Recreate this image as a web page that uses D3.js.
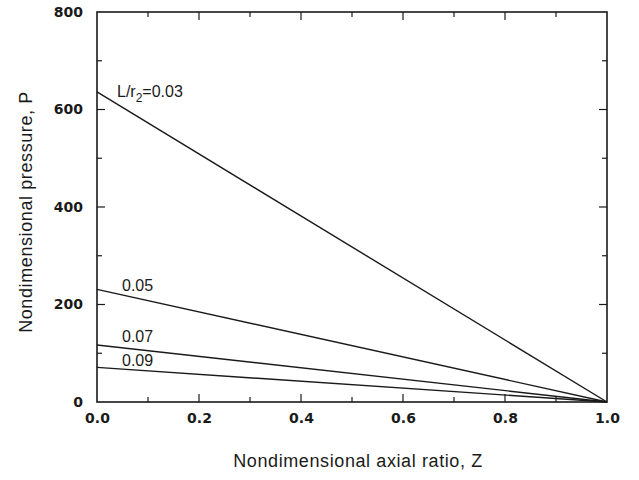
<!DOCTYPE html>
<html><head><meta charset="utf-8">
<script src="https://cdn.jsdelivr.net/npm/d3@7"></script>
<style>body{margin:0;background:#fff}</style>
</head><body>
<svg id="c" width="639" height="480"></svg>
<script>
const seriesNames = ["0.03", "0.05", "0.07", "0.09"];
const zValues = [0.0, 1.0];
const pAtZ0 = [636, 231, 117, 71];
const pAtZ1 = [0, 0, 0, 0];
const xTickLabels = ["0.0", "0.2", "0.4", "0.6", "0.8", "1.0"];
const yTickLabels = ["0", "200", "400", "600", "800"];

const svg = d3.select("#c");
const L = 97, R = 607, T = 12, B = 402;
const x = d3.scaleLinear().domain([0, 1]).range([L, R]);
const y = d3.scaleLinear().domain([0, 800]).range([B, T]);
const ink = "#1a1a1a";
const font = "Liberation Sans, Arial, sans-serif";
const boldFont = "DejaVu Sans, sans-serif";

// frame
svg.append("rect").attr("x", L).attr("y", T).attr("width", R - L).attr("height", B - T)
  .attr("fill", "none").attr("stroke", ink).attr("stroke-width", 1.6);

// ticks
const xMinor = d3.range(0, 11).map(i => i / 10);
const yMinor = d3.range(0, 9).map(i => i * 100);
const g = svg.append("g").attr("stroke", ink).attr("stroke-width", 1.2);
xMinor.forEach((v, i) => {
  const len = i % 2 === 0 ? 8 : 5;
  if (i === 0 || i === 10) return;
  g.append("line").attr("x1", x(v)).attr("x2", x(v)).attr("y1", B).attr("y2", B - len);
  g.append("line").attr("x1", x(v)).attr("x2", x(v)).attr("y1", T).attr("y2", T + len);
});
yMinor.forEach((v, i) => {
  const len = i % 2 === 0 ? 8 : 5;
  if (i === 0 || i === 8) return;
  g.append("line").attr("x1", L).attr("x2", L + len).attr("y1", y(v)).attr("y2", y(v));
  g.append("line").attr("x1", R).attr("x2", R - len).attr("y1", y(v)).attr("y2", y(v));
});

// tick labels
const xAxis = d3.axisBottom(x).tickValues(xTickLabels.map(Number)).tickSize(0).tickPadding(11)
  .tickFormat((d, i) => xTickLabels[i]);
const gx = svg.append("g").attr("transform", `translate(0,${B})`).call(xAxis);
gx.select(".domain").remove();
gx.selectAll("text").attr("font-family", boldFont)
  .attr("font-size", 14).attr("font-weight", "bold").attr("fill", ink);

const yAxis = d3.axisLeft(y).tickValues(yTickLabels.map(Number)).tickSize(0).tickPadding(14)
  .tickFormat((d, i) => yTickLabels[i]);
const gy = svg.append("g").attr("transform", `translate(${L},0)`).call(yAxis);
gy.select(".domain").remove();
gy.selectAll("text").attr("font-family", boldFont)
  .attr("font-size", 14).attr("font-weight", "bold").attr("fill", ink);

// lines
const line = d3.line().x(d => x(d[0])).y(d => y(d[1]));
seriesNames.forEach((s, i) => {
  const pts = [[zValues[0], pAtZ0[i]], [zValues[1], pAtZ1[i]]];
  svg.append("path").attr("d", line(pts)).attr("fill", "none")
    .attr("stroke", ink).attr("stroke-width", 1.4);
});

// labels
const lab0 = svg.append("text").attr("x", 117).attr("y", 97)
  .attr("font-family", font).attr("font-size", 16).attr("fill", ink);
lab0.append("tspan").text("L/r");
lab0.append("tspan").attr("font-size", 12).attr("dy", 5).text("2");
lab0.append("tspan").attr("dy", -5).text("=" + seriesNames[0]);
const labelOffsets = [0, 2, -3, -1];
[1, 2, 3].forEach(i => {
  svg.append("text").attr("x", x(0) + 25).attr("y", y(pAtZ0[i]) + labelOffsets[i])
    .attr("font-family", font).attr("font-size", 16).attr("fill", ink).text(seriesNames[i]);
});

// axis titles
svg.append("text").attr("x", 358).attr("y", 467).attr("text-anchor", "middle")
  .attr("font-family", font).attr("font-size", 18).attr("letter-spacing", 0.6).attr("fill", ink)
  .text("Nondimensional axial ratio, Z");
svg.append("text").attr("transform", "translate(32,212) rotate(-90)").attr("text-anchor", "middle")
  .attr("font-family", font).attr("font-size", 18).attr("letter-spacing", 0.6).attr("fill", ink)
  .text("Nondimensional pressure, P");
</script>
</body></html>
